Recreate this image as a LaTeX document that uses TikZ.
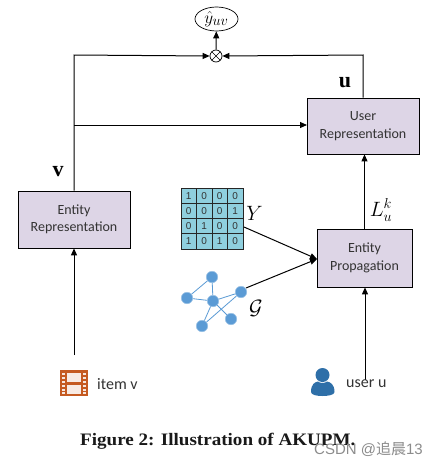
\documentclass[tikz,border=0pt]{standalone}
\usepackage{fontspec}
\usepackage{amsmath}
\setmainfont{Carlito}
\newfontfamily\capfont[FakeStretch=1.09]{Liberation Serif}
\newfontfamily\labfont{Liberation Serif}
\newfontfamily\cjk{Noto Sans CJK SC}
\newfontfamily\wmfont{Liberation Sans}
\usetikzlibrary{arrows.meta,shapes.geometric,shapes.misc}
\definecolor{boxfill}{HTML}{DDD5E6}
\definecolor{cellfill}{HTML}{8FCFDE}
\definecolor{netblue}{HTML}{5B9BD5}
\definecolor{filmor}{HTML}{C55A21}
\definecolor{userblue}{HTML}{2E6FA8}
\definecolor{txtgray}{HTML}{333333}
\tikzset{
  x=1pt,y=-1pt,
  procbox/.style={draw=black,line width=0.8pt,fill=boxfill,inner sep=0pt,align=center,font=\fontsize{14}{17.5}\selectfont,text=txtgray},
  conn/.style={draw=black,line width=1pt,-{Triangle[length=7pt,width=6pt]}},
  netnode/.style={circle,fill=netblue,draw=netblue!60,line width=0.5pt,minimum size=11.5pt,inner sep=0pt},
  netedge/.style={draw=netblue,line width=0.8pt},
  celltext/.style={font=\wmfont\fontsize{10}{10}\selectfont,text=txtgray},
  mathlab/.style={inner sep=0pt,font=\fontsize{20}{22}\selectfont},
  boldlab/.style={inner sep=0pt,font=\labfont\bfseries\fontsize{22}{24}\selectfont},
  tiplab/.style={inner sep=0pt,font=\fontsize{16}{18}\selectfont,text=txtgray},
}
\begin{document}
\begin{tikzpicture}
\useasboundingbox (0,0) rectangle (438,466);
\fill[white] (0,0) rectangle (438,466);
% boxes
\node[procbox,minimum width=112pt,minimum height=57pt] (er) at (74,219.5) {Entity\\Representation};
\node[procbox,minimum width=112pt,minimum height=56pt] (ur) at (363,126) {User\\Representation};
\node[procbox,minimum width=95pt,minimum height=58pt] (ep) at (364.5,258) {Entity\\Propagation};
% output
\node[draw=black,line width=0.7pt,ellipse,minimum width=43pt,minimum height=24pt,inner sep=0pt] (yhat) at (216.5,19) {\fontsize{19}{21}\selectfont$\hat{y}_{uv}$};
\node[draw=black,line width=0.7pt,circle,cross out,minimum size=8pt,inner sep=0pt] (xc) at (216,56) {};
\node[draw=black,line width=0.7pt,circle,minimum size=12pt,inner sep=0pt] (mul) at (216,56) {};
% free coordinates
\coordinate (vcorner) at (74,55);
\coordinate (vmid) at (74,125);
\coordinate (ucorner) at (363,55);
\coordinate (itemtop) at (74,355);
\coordinate (usertop) at (365,380);
\coordinate (ytail) at (244,227);
\coordinate (gtail) at (246,288);
\coordinate (ephead) at (317,259);
\coordinate (urv) at (307,125);
% connectors
\draw[conn] (mul) -- (yhat);
\draw[conn] (er.north -| vcorner) -- (vcorner) -- (mul.west);
\draw[conn] (ur.north -| ucorner) -- (ucorner) -- (mul.east);
\draw[conn] (vmid) -- (urv);
\draw[conn] (itemtop) -- (er.south);
\draw[conn] (ep.north) -- (ep.north |- ur.south);
\draw[conn] (usertop) -- (usertop |- ep.south);
% matrix
\fill[cellfill] (181,188) rectangle (243,249);
\draw[line width=0.9pt,draw=black!85] (181,188) rectangle (243,249);
\foreach \x in {196.5,212,227.5}{\draw[line width=0.9pt,black!85] (\x,188) -- (\x,249);}
\foreach \y in {203.25,218.5,233.75}{\draw[line width=0.9pt,black!85] (181,\y) -- (243,\y);}
\foreach \r/\y/\a/\b/\c/\d in {0/195.6/1/0/0/0,1/210.9/0/0/0/1,2/226.1/0/1/0/0,3/241.4/1/0/1/0}{
  \node[celltext] (c\r a) at (188.75,\y) {\a};
  \node[celltext] (c\r b) at (204.25,\y) {\b};
  \node[celltext] (c\r c) at (219.75,\y) {\c};
  \node[celltext] (c\r d) at (235.25,\y) {\d};
}
\node[mathlab] (ylab) at (254.5,213) {$Y$};
% network
\node[netnode] (n1) at (212,277) {};
\node[netnode] (n2) at (187,298) {};
\node[netnode] (n3) at (213,301) {};
\node[netnode] (n4) at (241,292) {};
\node[netnode] (n5) at (231,319) {};
\node[netnode] (n6) at (202,326) {};
\draw[netedge] (n1) -- (n2) (n1) -- (n3) (n2) -- (n3) (n3) -- (n4) (n3) -- (n5) (n3) -- (n6) (n6) -- (n4);
\node[mathlab] (glab) at (256,308) {$\mathcal{G}$};
\draw[conn] (ytail) -- (ephead);
\draw[conn] (gtail) -- (ephead);
% labels
\node[boldlab] (vlab) at (58,172) {v};
\node[boldlab] (ulab) at (345,83) {u};
\node[inner sep=0pt,font=\fontsize{20}{22}\selectfont] (lab) at (381,210) {$L_u^k$};
% film icon
\fill[filmor] (60,370) rectangle (87.5,396);
\fill[white!88!filmor] (66.5,372.5) rectangle (81,381.5);
\fill[white!88!filmor] (66.5,384.5) rectangle (81,393.5);
\foreach \y in {372.5,376.5,380.5,384.5,388.5,392}{
  \fill[white!85!filmor] (62,\y) rectangle (64.5,\y+2);
  \fill[white!85!filmor] (83,\y) rectangle (85.5,\y+2);
}
\node[tiplab,anchor=west] (item) at (97,384) {item v};
% user icon
\fill[userblue] (322.5,375) circle (7pt);
\fill[userblue] (311,392) .. controls (311,384) and (315,382) .. (318,381.5) .. controls (320,383.5) and (325,383.5) .. (327,381.5) .. controls (330,382) and (334.5,384) .. (334.5,392) .. controls (334.5,395) and (328,396) .. (322.5,396) .. controls (317,396) and (311,395) .. (311,392) -- cycle;
\node[tiplab,anchor=west] (user) at (346,384) {user u};
% caption
\node[inner sep=0pt,anchor=west,font=\capfont\bfseries\fontsize{17.5}{20}\selectfont,text=black!90] (cap) at (80,441) {Figure 2: Illustration of AKUPM.};
\node[inner sep=0pt,anchor=east,font=\fontsize{15}{18}\selectfont,text=black!45] (wm) at (423,449) {\wmfont CSDN @\cjk 追晨\wmfont 13};
\end{tikzpicture}
\end{document}
